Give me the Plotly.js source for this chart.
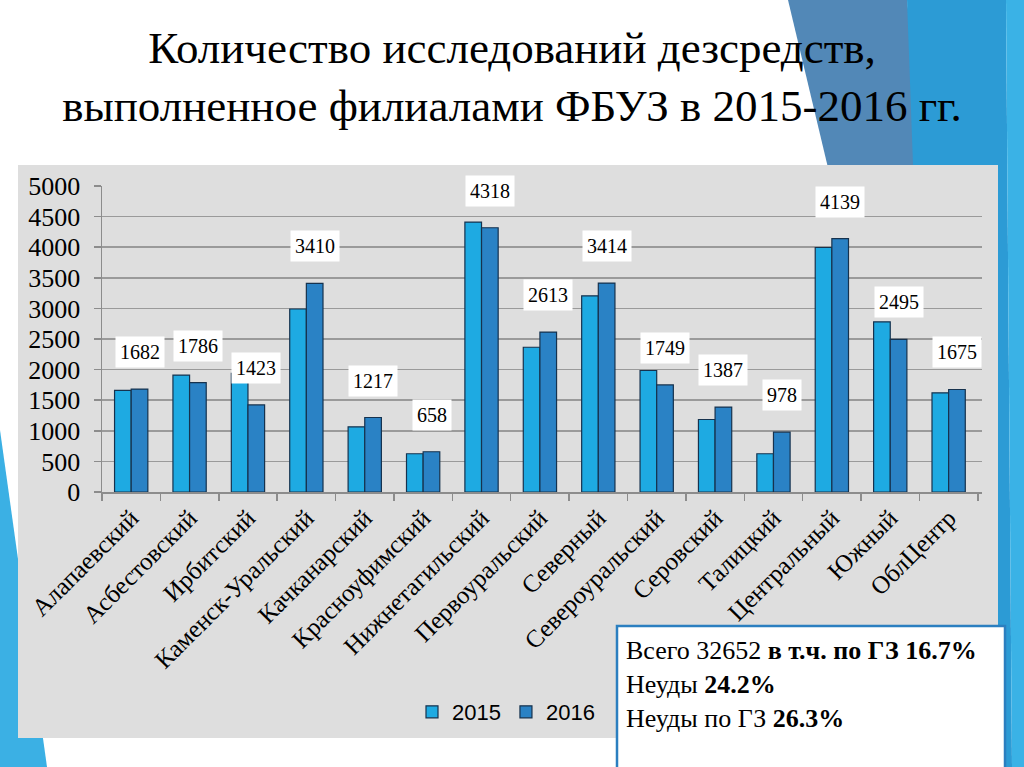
<!DOCTYPE html>
<html>
<head>
<meta charset="utf-8">
<script src="https://cdn.plot.ly/plotly-3.0.1.min.js"></script>
<style>html,body{margin:0;padding:0;background:#fff;}#chart{width:1024px;height:767px;}</style>
</head>
<body>
<div id="chart"></div>
<script>
// ---- data ----
const categories = ["Алапаевский","Асбестовский","Ирбитский","Каменск-Уральский","Качканарский","Красноуфимский","Нижнетагильский","Первоуральский","Северный","Североуральский","Серовский","Талицкий","Центральный","Южный","ОблЦентр"];
const values2015 = [1660, 1910, 1940, 2990, 1065, 625, 4410, 2365, 3205, 1985, 1185, 625, 3995, 2780, 1620];
const values2016 = [1682, 1786, 1423, 3410, 1217, 658, 4318, 2613, 3414, 1749, 1387, 978, 4139, 2495, 1675];
const seriesNames = ["2015", "2016"];
const yTicks = [0, 500, 1000, 1500, 2000, 2500, 3000, 3500, 4000, 4500, 5000];
const titleLines = ["Количество исследований дезсредств,", "выполненное филиалами ФБУЗ в 2015-2016 гг."];
const noteLines = ["Всего 32652 <b>в т.ч. по ГЗ 16.7%</b>", "Неуды <b>24.2%</b>", "Неуды по ГЗ <b>26.3%</b>"];

// ---- layout geometry (pixels) ----
const W = 1024, H = 767;
const M = {l: 102, r: 42, t: 186, b: 275};
const plotW = W - M.l - M.r, plotH = H - M.t - M.b;
const px = x => (x - M.l) / plotW;
const py = y => (H - M.b - y) / plotH;
const serif = "Liberation Serif, Times New Roman, serif";

const traces = [
  {type: "bar", name: seriesNames[0], x: categories, y: values2015,
   marker: {color: "#1eaae2", line: {color: "#16324e", width: 1.2}}, hoverinfo: "x+y"},
  {type: "bar", name: seriesNames[1], x: categories, y: values2016,
   marker: {color: "#2a82c5", line: {color: "#16324e", width: 1.2}}, hoverinfo: "x+y"}
];

const bargap = 0.43;
const catPx = plotW / categories.length;
const secondBarShift = (1 - bargap) * catPx / 4;

const annotations = values2016.map((v, i) => ({
  x: categories[i], y: v, xref: "x", yref: "y",
  text: String(v), showarrow: false,
  xshift: secondBarShift, yshift: 37, yanchor: "middle",
  bgcolor: "#ffffff", borderpad: 4,
  font: {family: serif, size: 20, color: "#000"}
}));

annotations.push({
  xref: "paper", yref: "paper", x: px(624), y: py(634),
  xanchor: "left", yanchor: "top", align: "left", showarrow: false,
  text: noteLines.join("<br>"),
  font: {family: serif, size: 26, color: "#000"}
});

const shapes = [
  // left decorative triangle
  {type: "path", xref: "paper", yref: "paper", layer: "below", line: {width: 0}, fillcolor: "#3bb0e4",
   path: `M${px(0)},${py(430)} L${px(47)},${py(767)} L${px(0)},${py(767)} Z`},
  // right decorative bands
  {type: "path", xref: "paper", yref: "paper", layer: "below", line: {width: 0}, fillcolor: "#5288b7",
   path: `M${px(788)},${py(0)} L${px(907)},${py(0)} L${px(935)},${py(260)} L${px(850)},${py(260)} Z`},
  {type: "path", xref: "paper", yref: "paper", layer: "below", line: {width: 0}, fillcolor: "#2c9bd5",
   path: `M${px(907)},${py(0)} L${px(1006)},${py(0)} L${px(1012)},${py(767)} L${px(935)},${py(767)} Z`},
  {type: "path", xref: "paper", yref: "paper", layer: "below", line: {width: 0}, fillcolor: "#3ab2e6",
   path: `M${px(1006)},${py(0)} L${px(1024)},${py(0)} L${px(1024)},${py(767)} L${px(1012)},${py(767)} Z`},
  // chart gray background
  {type: "rect", xref: "paper", yref: "paper", layer: "below", line: {width: 0}, fillcolor: "#dedede",
   x0: px(18), x1: px(998), y0: py(738), y1: py(165)},
  // note box
  {type: "rect", xref: "paper", yref: "paper", layer: "above", line: {color: "#2b7fc0", width: 2.5}, fillcolor: "#ffffff",
   x0: px(617), x1: px(1005), y0: py(780), y1: py(626)}
];

const layout = {
  width: W, height: H,
  margin: M,
  paper_bgcolor: "#ffffff",
  plot_bgcolor: "rgba(0,0,0,0)",
  barmode: "group", bargap: bargap, bargroupgap: 0,
  title: {
    text: titleLines.join("<br>"),
    font: {family: serif, size: 45, color: "#000"},
    x: 0.5, xref: "container", xanchor: "center",
    y: 0.918, yref: "container", yanchor: "top"
  },
  xaxis: {
    type: "category", tickson: "boundaries", ticks: "outside", ticklen: 7,
    tickcolor: "#8c8c8c", tickwidth: 1.5, showline: true, linecolor: "#8c8c8c", linewidth: 1.5,
    tickangle: -45, tickfont: {family: serif, size: 25, color: "#000"},
    showgrid: false, automargin: false, fixedrange: true
  },
  yaxis: {
    range: [0, 5000], tickvals: yTicks, ticks: "outside", ticklen: 7, ticklabelstandoff: 8,
    tickcolor: "#8c8c8c", tickwidth: 1.5, showline: true, linecolor: "#8c8c8c", linewidth: 1.5,
    showgrid: true, gridcolor: "#9a9a9a", gridwidth: 1.5, zeroline: false,
    tickfont: {family: serif, size: 26, color: "#000"},
    automargin: false, fixedrange: true
  },
  showlegend: true,
  legend: {
    orientation: "h", x: px(412), y: py(691), xanchor: "left", yanchor: "top",
    bgcolor: "rgba(0,0,0,0)", font: {family: "Liberation Sans, Arial, sans-serif", size: 22, color: "#000"},
    itemwidth: 30, traceorder: "normal"
  },
  annotations: annotations,
  shapes: shapes
};

Plotly.newPlot("chart", traces, layout, {displayModeBar: false, staticPlot: true});
</script>
</body>
</html>
